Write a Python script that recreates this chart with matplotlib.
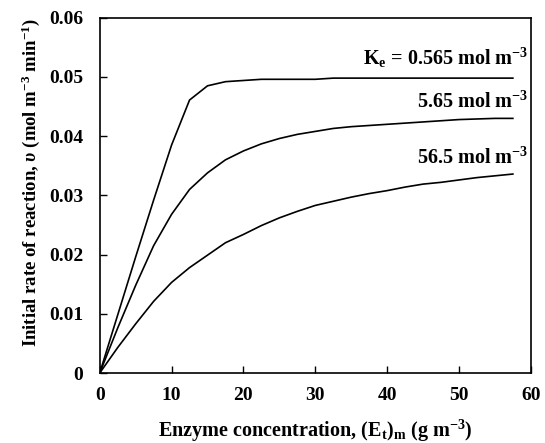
import matplotlib
matplotlib.use("Agg")
import matplotlib.pyplot as plt

plt.rcParams['font.family'] = 'Liberation Serif'
plt.rcParams['font.weight'] = 'bold'
plt.rcParams['axes.labelweight'] = 'bold'
plt.rcParams['mathtext.fontset'] = 'custom'
plt.rcParams['mathtext.rm'] = 'Liberation Serif:bold'
plt.rcParams['mathtext.it'] = 'Liberation Serif:bold:italic'
plt.rcParams['mathtext.bf'] = 'Liberation Serif:bold'

# enzyme concentration (g m-3)
conc = [0, 2.5, 5, 7.5, 10, 12.5, 15, 17.5, 20, 22.5, 25, 27.5, 30,
        32.5, 35, 37.5, 40, 42.5, 45, 47.5, 50, 52.5, 55, 57.5]

# initial rate for each Ke
rate_0565 = [0, 0.0098, 0.0196, 0.0292, 0.0385, 0.0461, 0.0485, 0.0492,
             0.0494, 0.0496, 0.0496, 0.0496, 0.0496, 0.0498, 0.0498, 0.0498,
             0.0498, 0.0498, 0.0498, 0.0498, 0.0498, 0.0498, 0.0498, 0.0498]
rate_565 = [0, 0.0076, 0.0148, 0.0215, 0.0268, 0.0310, 0.0338, 0.0360,
            0.0375, 0.0387, 0.0396, 0.0403, 0.0408, 0.0413, 0.0416, 0.0418,
            0.0420, 0.0422, 0.0424, 0.0426, 0.0428, 0.0429, 0.0430, 0.0430]
rate_565b = [0, 0.0043, 0.0083, 0.0121, 0.0153, 0.0178, 0.0199, 0.0220,
             0.0234, 0.0249, 0.0262, 0.0273, 0.0283, 0.0290, 0.0297, 0.0303,
             0.0308, 0.0314, 0.0319, 0.0322, 0.0326, 0.0330, 0.0333, 0.0336]

labels = [r'K$_\mathregular{e}$ = 0.565 mol m$^\mathregular{-3}$',
          r'5.65 mol m$^\mathregular{-3}$',
          r'56.5 mol m$^\mathregular{-3}$']
label_y = [0.0532, 0.0458, 0.0363]

fig = plt.figure(figsize=(5.45, 4.43), dpi=100)
ax = fig.add_axes([0.183, 0.158, 0.791, 0.802])

for r in [rate_0565, rate_565, rate_565b]:
    ax.plot(conc, r, color='black', linewidth=1.2)

for lab, y in zip(labels, label_y):
    ax.text(59.6, y, lab, ha='right', va='center', fontsize=14.5)

ax.set_xlim(0, 60)
ax.set_ylim(0, 0.06)
ax.set_xticks([0, 10, 20, 30, 40, 50, 60])
ax.set_yticks([0, 0.01, 0.02, 0.03, 0.04, 0.05, 0.06])
ax.set_yticklabels(['0', '0.01', '0.02', '0.03', '0.04', '0.05', '0.06'])
ax.tick_params(direction='in', length=5, width=1, labelsize=14)
ax.tick_params(axis='x', pad=10)
ax.tick_params(axis='y', pad=12)
for s in ax.spines.values():
    s.set_linewidth(1.2)

ax.set_xlabel(r'Enzyme concentration, (E$_\mathregular{t}$)$_\mathregular{m}$ (g m$^\mathregular{-3}$)',
              fontsize=14.5, labelpad=10)
ax.set_ylabel(r'Initial rate of reaction, $\upsilon$ (mol m$^\mathregular{-3}$ min$^\mathregular{-1}$)',
              fontsize=13.5)
ax.yaxis.set_label_coords(-0.133, 0.535)

fig.savefig('out.png', dpi=100)
